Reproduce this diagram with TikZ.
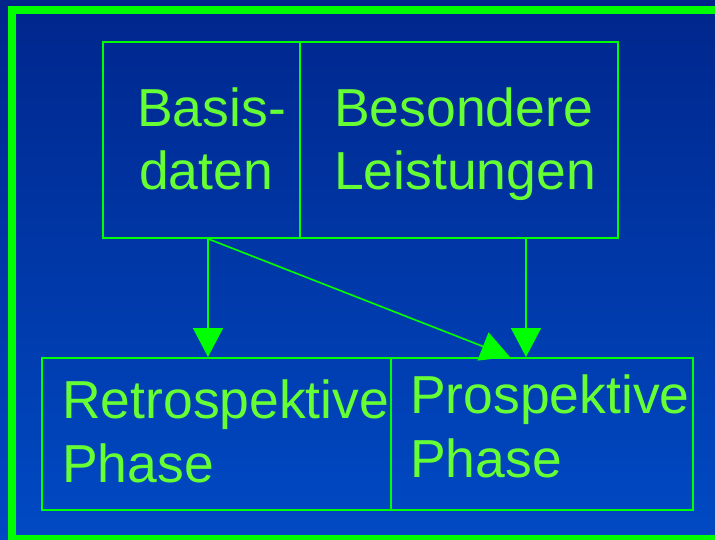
\documentclass[tikz,border=0pt]{standalone}
\usepackage{fontspec}
\setmainfont{Liberation Sans}
\usetikzlibrary{arrows.meta}
\definecolor{bgtop}{RGB}{0,38,140}
\definecolor{bgbot}{RGB}{0,74,196}
\definecolor{lgreen}{RGB}{0,255,0}
\definecolor{tgreen}{RGB}{102,255,51}
\begin{document}
\begin{tikzpicture}[x=1pt,y=-1pt,
  cell/.style={draw=lgreen,line width=1.8pt,inner sep=0pt,anchor=north west},
  lbl/.style={text=tgreen,font=\fontsize{53.5}{64}\selectfont,anchor=base west,inner sep=0pt},
  arr/.style={draw=lgreen,line width=1.6pt,-{Triangle[width=30pt,length=29pt]},fill=lgreen}]
\useasboundingbox (0,0) rectangle (715,540);
\shade[top color=bgtop,bottom color=bgbot] (0,0) rectangle (715,540);
\begin{scope}
\clip (0,0) rectangle (715,540);
\draw[lgreen,line width=8pt] (12,10) rectangle (730,539);
\end{scope}
% upper cells
\node[cell,minimum width=197pt,minimum height=196pt] (basis) at (102,41) {};
\node[cell,minimum width=318pt,minimum height=196pt] (beson) at (299,41) {};
% lower cells
\node[cell,minimum width=349pt,minimum height=152pt] (retro) at (41,357) {};
\node[cell,minimum width=302pt,minimum height=152pt] (prosp) at (390,357) {};
% labels
\node[lbl] (t1) at (137,127) {Basis-};
\node[lbl] (t2) at (139,190) {daten};
\node[lbl] (t3) at (334,127) {Besondere};
\node[lbl] (t4) at (334,190) {Leistungen};
\node[lbl] (t5) at (62,418) {Retrospektive};
\node[lbl] (t6) at (62,482) {Phase};
\node[lbl] (t7) at (410,413) {Prospektive};
\node[lbl] (t8) at (410,477) {Phase};
% connectors
\coordinate (a0) at (basis.south -| 208,0);
\coordinate (b0) at (beson.south -| 526,0);
\draw[arr] (a0) -- (retro.north -| 208,0);
\draw[arr] (b0) -- (prosp.north -| 526,0);
\draw[arr] (a0) -- (prosp.north -| 510,0);
\end{tikzpicture}
\end{document}
